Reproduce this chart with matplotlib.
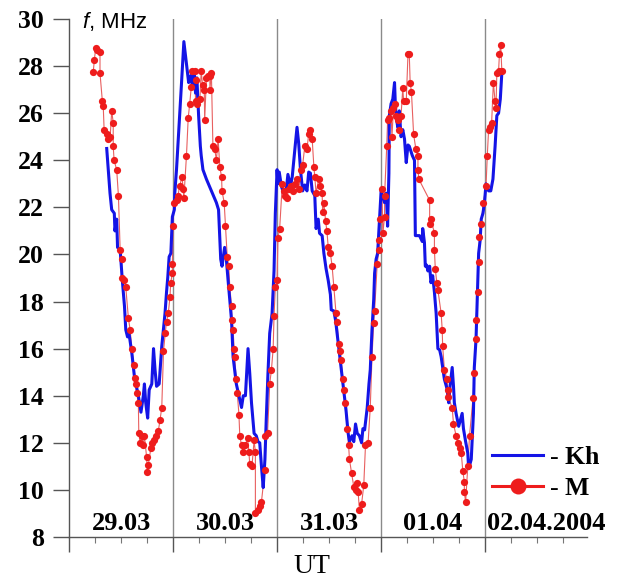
import matplotlib
matplotlib.use("Agg")
import matplotlib.pyplot as plt
from matplotlib.lines import Line2D
from matplotlib.ticker import MultipleLocator

# Kh ionosonde, foF2 (MHz) vs UT hours counted from 29.03 00:00
kh_hours = [
    # 29.03
    8.7, 9.1, 9.46, 9.85, 10.45, 10.6, 11.0, 11.2, 11.8, 12.3,
    12.8, 13.1, 13.5, 13.8, 14.5, 15.1, 16.0, 16.6, 17.15, 17.4,
    17.7, 18.15, 18.5, 19.1, 19.5, 19.85, 20.2, 20.8, 21.4, 22.15,
    22.5, 22.8, 23.1, 23.5, 23.85, 24.3,
    # 30.03
    24.4, 24.8, 25.2, 25.9, 26.5, 27.1, 27.6, 28.1, 28.5, 28.85,
    29.2, 29.5, 29.9, 30.3, 30.5, 30.9, 31.7, 32.85, 34.0, 34.5,
    35.0, 35.3, 35.9, 36.3, 36.7, 37.5, 37.85, 38.6, 39.2, 39.8,
    40.2, 40.7, 41.3, 41.7, 42.1, 42.7, 43.2, 43.6, 44.0, 44.4,
    44.8, 45.2, 45.5, 45.9, 46.3, 46.85, 47.3, 47.6,
    # 31.03
    48.0, 48.2, 48.5, 49.0, 49.5, 50.1, 50.5, 51.1, 51.5, 51.85,
    52.2, 52.6, 53.0, 53.4, 53.9, 54.4, 54.9, 55.3, 55.7, 56.1,
    56.7, 57.0, 57.5, 57.8, 58.4, 58.8, 59.3, 59.8, 60.3, 60.5,
    61.1, 61.5, 62.2, 62.85, 63.4, 63.9, 64.4, 64.7, 65.3, 65.7,
    66.1, 66.5, 67.0, 67.5, 67.8, 68.2, 68.8, 69.2, 69.5, 69.9,
    70.3, 70.5, 70.85,
    # 01.04
    71.2, 71.8, 72.0, 72.4, 72.8, 73.2, 73.5, 73.8, 73.9, 74.3,
    74.7, 75.1, 75.3, 75.6, 75.85, 76.2, 76.6, 77.0, 77.4, 77.8,
    78.2, 78.5, 79.2, 79.7, 79.9, 80.85, 81.5, 81.6, 82.0, 82.2,
    82.5, 82.8, 83.2, 83.5, 83.9, 84.3, 84.7, 85.1, 85.5, 85.85,
    86.2, 86.6, 87.2, 87.6, 87.9, 88.4, 88.7, 88.9, 89.3, 89.9,
    90.5, 90.7, 91.0, 91.5, 92.0, 92.2, 92.8, 93.0, 93.3, 93.5,
    93.9, 94.3, 94.5, 94.85, 95.1, 95.5, 95.85, 96.2,
    # 02.04
    96.8, 97.3, 97.8, 98.3, 98.7, 99.1, 99.5, 99.85,
]
kh_freq = [
    24.5, 23.5, 22.6, 21.9, 21.75, 21.0, 21.5, 20.3, 20.2, 18.9,
    17.8, 16.8, 16.5, 16.7, 15.8, 14.8, 14.0, 13.3, 14.0, 14.5,
    13.7, 13.05, 14.25, 14.5, 16.0, 15.1, 14.4, 14.5, 16.1, 17.5,
    18.4, 19.06, 19.9, 20.05, 21.6, 21.9,

    22.6, 23.6, 24.9, 27.1, 29.04, 28.1, 27.3, 27.6, 27.1, 27.7,
    26.85, 27.5, 25.9, 24.6, 24.2, 23.6, 23.2, 22.7, 22.2, 21.9,
    19.8, 19.5, 20.3, 19.8, 18.9, 17.2, 15.66, 14.5, 14.0, 13.5,
    14.0, 14.0, 16.0, 14.95, 13.7, 12.4, 12.3, 12.05, 12.0, 11.0,
    10.1, 11.3, 12.97, 14.95, 16.65, 17.5, 19.3, 21.75,

    23.6, 23.0, 23.5, 22.9, 22.6, 22.7, 23.4, 22.9, 23.3, 24.0,
    24.65, 25.4, 24.7, 23.6, 22.7, 22.95, 22.7, 23.5, 23.45, 22.7,
    22.5, 21.1, 21.5, 20.9, 20.8, 20.05, 19.4, 18.9, 18.3, 17.65,
    17.6, 17.2, 16.1, 15.1, 14.25, 13.4, 12.4, 12.05, 12.3, 12.05,
    12.8, 12.4, 12.3, 12.0, 12.6, 12.55, 13.5, 14.5, 15.1, 16.8,
    18.1, 19.2, 19.8,

    20.05, 22.0, 22.7, 22.45, 22.2, 22.6, 21.2, 23.45, 25.9, 26.4,
    26.6, 27.3, 26.3, 25.7, 25.4, 26.1, 25.0, 25.3, 24.9, 23.9,
    24.65, 24.6, 24.2, 24.0, 20.8, 20.8, 20.55, 21.1, 20.5, 19.5,
    19.55, 19.3, 19.5, 18.8, 19.1, 18.4, 17.5, 16.0, 15.95, 15.66,
    15.2, 14.7, 14.3, 13.7, 14.4, 15.2, 14.4, 13.7, 13.25, 12.7,
    13.1, 13.25, 12.6, 12.05, 11.56, 10.9, 11.3, 12.1, 13.25, 15.2,
    16.4, 18.9, 20.05, 20.6, 21.5, 21.75, 22.2, 23.0,

    22.7, 22.7, 23.2, 24.6, 25.9, 26.0, 26.6, 27.7,
]

# M ionosonde, same time axis
m_hours = [
    # 29.03
    5.6, 5.85, 6.15, 6.5, 7.15, 7.15, 7.7, 7.9, 8.1, 8.7,
    9.1, 9.5, 9.85, 10.2, 10.2, 10.4, 11.0, 11.4, 11.8, 12.15,
    12.15, 12.8, 13.1, 13.7, 14.1, 14.5, 15.0, 15.2, 15.4, 15.6,
    16.0, 16.1, 16.4, 16.8, 17.15, 17.4, 17.9, 18.1, 18.3, 18.9,
    19.2, 19.5, 20.0, 20.6, 21.0, 21.4, 21.8, 22.2, 22.5, 22.9,
    23.3, 23.45, 23.85, 23.85,
    # 30.03
    24.0, 24.2, 24.8, 25.15, 25.5, 26.1, 26.3, 26.5, 27.1, 27.5,
    27.85, 28.2, 28.4, 29.0, 29.2, 29.4, 29.6, 30.2, 30.5, 30.8,
    31.2, 31.3, 31.7, 32.1, 32.5, 32.5, 32.85, 33.2, 33.6, 34.0,
    34.4, 34.8, 35.2, 35.3, 35.8, 36.1, 36.5, 36.85, 37.1, 37.5,
    37.6, 37.85, 38.1, 38.2, 38.6, 38.85, 39.2, 39.4, 39.8, 40.2,
    40.7, 41.2, 41.5, 41.7, 42.2, 42.7, 43.0, 43.0, 43.5, 44.0,
    44.4, 45.2, 45.3, 45.8, 46.3, 46.7, 47.1, 47.3, 47.6, 48.0,
    48.2, 48.6,
    # 31.03
    49.2, 49.5, 49.9, 50.3, 50.7, 51.1, 51.6, 52.1, 52.6, 53.0,
    53.6, 53.9, 54.4, 54.9, 55.3, 55.7, 56.1, 56.5, 56.7, 57.0,
    57.6, 58.0, 58.4, 58.5, 58.8, 59.2, 59.5, 59.8, 60.3, 60.7,
    61.1, 61.6, 61.85, 62.2, 62.6, 62.8, 63.2, 63.4, 63.6, 64.2,
    64.5, 64.7, 65.2, 65.7, 66.1, 66.5, 66.7, 67.0, 67.5, 68.0,
    68.4, 69.0, 69.5, 69.9, 70.3, 70.5, 71.1, 71.5, 71.6, 71.85,
    72.2,
    # 01.04
    72.4, 72.8, 72.8, 73.3, 73.5, 73.9, 74.3, 74.5, 74.85, 75.3,
    75.5, 75.85, 76.2, 76.6, 77.0, 77.2, 77.8, 78.2, 78.5, 78.7,
    79.0, 79.5, 80.0, 80.5, 80.5, 80.7, 83.2, 83.2, 83.5, 84.3,
    84.3, 84.5, 84.85, 85.1, 85.85, 86.1, 86.2, 86.6, 87.2, 87.4,
    87.4, 88.4, 88.7, 89.3, 89.7, 90.1, 90.5, 90.85, 91.2, 91.2,
    91.5, 92.0, 92.4, 93.2, 93.5, 93.8, 93.9, 94.3, 94.5, 94.7,
    95.1, 95.6, 96.2,
    # 02.04
    96.5, 96.8, 97.2, 97.5, 97.9, 98.3, 98.5, 98.7, 99.1, 99.3,
    99.6, 99.85,
]
m_freq = [
    27.77, 28.26, 28.76, 28.7, 28.6, 27.7, 26.5, 26.3, 25.3, 25.1,
    24.9, 25.0, 26.1, 25.6, 24.6, 24.0, 23.6, 22.5, 20.2, 19.8,
    19.0, 18.9, 18.6, 17.3, 16.8, 16.0, 15.3, 14.74, 14.5, 14.1,
    13.7, 12.4, 12.0, 12.3, 11.9, 12.3, 11.4, 10.78, 11.06, 11.8,
    12.0, 12.1, 12.3, 12.5, 12.97, 13.5, 15.9, 16.65, 17.15, 17.5,
    18.2, 18.8, 19.2, 19.6,

    21.2, 22.2, 22.3, 22.5, 22.9, 23.3, 22.8, 22.4, 24.2, 25.8,
    26.4, 27.1, 27.8, 27.8, 26.5, 27.4, 26.4, 26.6, 27.8, 27.2,
    27.0, 25.7, 27.5, 27.6, 27.6, 27.0, 27.7, 24.6, 24.5, 24.0,
    24.9, 23.7, 23.3, 22.7, 22.2, 21.2, 19.9, 19.5, 18.6, 17.8,
    17.2, 16.8, 16.0, 15.66, 14.7, 14.1, 13.2, 12.3, 11.9, 11.6,
    11.9, 12.2, 11.6, 11.1, 11.0, 12.1, 11.6, 9.0, 9.15, 9.3,
    9.5, 10.85, 12.3, 12.4, 14.5, 15.1, 16.0, 17.4, 18.6, 18.9,
    20.7, 21.1,

    23.0, 22.7, 22.5, 22.4, 22.8, 22.9, 22.7, 23.0, 23.2, 22.8,
    23.6, 23.8, 24.6, 24.5, 25.1, 25.3, 24.9, 23.7, 23.3, 22.6,
    23.2, 22.9, 22.6, 21.8, 22.2, 21.4, 21.0, 20.3, 20.05, 19.5,
    18.6, 17.5, 17.15, 16.2, 15.9, 15.5, 14.7, 14.25, 13.7, 12.6,
    11.9, 11.3, 10.7, 10.14, 10.0, 10.3, 9.9, 9.15, 9.4, 10.2,
    11.9, 12.0, 13.5, 15.66, 17.1, 17.6, 19.6, 20.2, 20.6, 21.5,
    22.8,

    20.9, 21.6, 22.5, 24.6, 25.7, 25.8, 26.1, 25.0, 26.2, 26.4,
    25.9, 25.7, 25.3, 25.9, 27.06, 26.5, 26.5, 28.5, 28.5, 27.3,
    26.9, 25.1, 24.5, 24.2, 23.6, 23.2, 22.3, 21.3, 21.5, 20.9,
    20.2, 19.4, 18.8, 18.5, 17.5, 16.8, 16.1, 15.1, 14.7, 14.25,
    13.96, 13.5, 12.8, 12.3, 11.98, 11.8, 11.56, 10.8, 10.35, 9.9,
    9.5, 11.0, 12.3, 13.9, 14.95, 16.4, 17.2, 18.4, 19.7, 20.76,
    21.3, 22.2, 22.9,

    24.2, 25.3, 25.4, 25.6, 27.3, 26.5, 26.2, 27.7, 27.8, 28.5,
    28.9, 27.8,
]

day_labels = ["29.03", "30.03", "31.03", "01.04", "02.04.2004"]

plt.rcParams["font.family"] = "Liberation Serif"
plt.rcParams["mathtext.fontset"] = "custom"
plt.rcParams["mathtext.it"] = "Liberation Sans:italic"
plt.rcParams["mathtext.rm"] = "Liberation Serif"
plt.rcParams["mathtext.bf"] = "Liberation Serif:bold"

fig = plt.figure(figsize=(6.19, 5.81), dpi=100)
ax = fig.add_axes([69 / 619, 44 / 581, 518 / 619, 518 / 581])

# day boundaries
for d in (24, 48, 72, 96):
    ax.axvline(d, color="#8a8a8a", lw=1.0, zorder=1)

ax.plot(m_hours, m_freq, color="#e86060", lw=0.8, zorder=2)
ax.plot(kh_hours, kh_freq, color="#1414e6", lw=2.2, zorder=3)
ax.plot(m_hours, m_freq, "o", color="#ee1c1c", ms=5.2, mew=0, zorder=4)

ax.set_xlim(0, 119.5)
ax.set_ylim(8, 30)
ax.xaxis.set_major_locator(MultipleLocator(24))
ax.xaxis.set_minor_locator(MultipleLocator(6))
ax.yaxis.set_major_locator(MultipleLocator(2))
ax.tick_params(axis="x", which="major", direction="out", length=11, width=1,
               color="#555555", labelbottom=False)
ax.tick_params(axis="x", which="minor", direction="out", length=4.5, width=0.8,
               color="#777777")
ax.tick_params(axis="y", direction="out", length=11.5, width=1, color="#555555",
               pad=6.5, labelsize=18.5)
for t in ax.get_yticklabels():
    t.set_fontweight("bold")

for side in ("top", "right"):
    ax.spines[side].set_visible(False)
for side in ("left", "bottom"):
    ax.spines[side].set_color("#555555")
    ax.spines[side].set_linewidth(1.0)

for i, lab in enumerate(day_labels):
    if i < 4:
        ax.text(24 * i + 12, 8.3, lab, ha="center", va="baseline",
                fontsize=19, fontweight="bold")
    else:
        ax.text(24 * i + 0.5, 8.3, lab, ha="left", va="baseline",
                fontsize=19, fontweight="bold")

ax.text(3.0, 29.6, r"$f$, MHz", family="Liberation Sans", fontsize=16,
        va="baseline")
ax.text(56, 6.75, "UT", ha="center", va="center", fontsize=20, clip_on=False)

handles = [
    Line2D([], [], color="#1414e6", lw=2.2),
    Line2D([], [], color="#ee1c1c", lw=2.2, marker="o", ms=11.5, mew=0),
]
ax.legend(handles, [r"- $\mathbf{Kh}$", r"- $\mathbf{M}$"], loc="upper left",
          bbox_to_anchor=(97.6, 11.85), bbox_transform=ax.transData,
          frameon=False, handlelength=2.0, handletextpad=0.2,
          labelspacing=0.3, borderpad=0, borderaxespad=0,
          prop={"size": 18.5})

fig.savefig("out.png", dpi=100)
